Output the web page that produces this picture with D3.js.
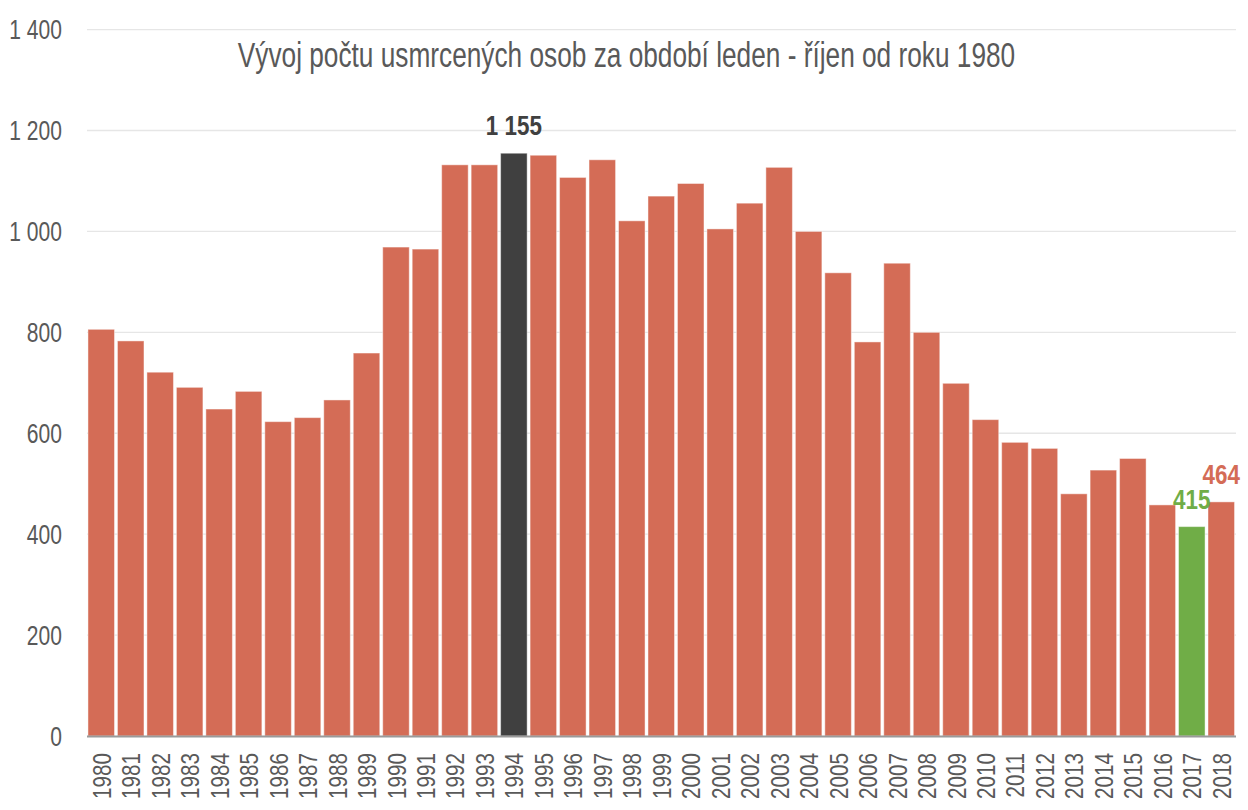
<!DOCTYPE html>
<html><head><meta charset="utf-8">
<script src="https://cdn.jsdelivr.net/npm/d3@7"></script>
<style>
html,body{margin:0;padding:0;background:#fff;}
svg{display:block;}
text{font-family:"Liberation Sans Narrow","Arial Narrow","Liberation Sans",Arial,sans-serif;}
</style></head>
<body>
<svg id="chart" width="1248" height="810"></svg>
<script>
const years = [1980,1981,1982,1983,1984,1985,1986,1987,1988,1989,1990,1991,1992,1993,1994,1995,1996,1997,1998,1999,2000,2001,2002,2003,2004,2005,2006,2007,2008,2009,2010,2011,2012,2013,2014,2015,2016,2017,2018];
const deaths = [806,783,721,691,648,683,623,631,666,759,969,965,1132,1132,1155,1151,1107,1142,1021,1070,1095,1005,1056,1127,1000,918,781,937,800,699,627,582,570,480,527,550,458,415,464];
const yTicks = [0,200,400,600,800,1000,1200,1400];
const highlightYears = {1994:"#404040", 2017:"#70AD47"};
const labelYears = [1994,2017,2018];
const title = "Vývoj počtu usmrcených osob za období leden - říjen od roku 1980";

const svg = d3.select("#chart");
const x = d3.scaleBand().domain(years).range([86.5,1236]).paddingInner(0.1).paddingOuter(0.05);
const y = d3.scaleLinear().domain([0,1400]).range([736,29.6]);
const barColor = "#D46C56";
const colorOf = yr => highlightYears[yr] || barColor;
const fmt = v => d3.format(",")(v).replace(/,/g," ");
const squeeze = 0.78;

// grid
svg.append("g").selectAll("line").data(yTicks.filter(d=>d>0)).join("line")
  .attr("x1",87).attr("x2",1236).attr("y1",d=>y(d)).attr("y2",d=>y(d))
  .attr("stroke","#E6E6E6").attr("stroke-width",1.3);

// y labels
svg.append("g").selectAll("text").data(yTicks).join("text")
  .attr("transform",d=>`translate(62,${y(d)}) scale(${squeeze},1)`)
  .attr("dy","0.36em")
  .attr("text-anchor","end").attr("fill","#595959").attr("font-size",27)
  .text(d=>fmt(d));

// bars
svg.append("g").selectAll("rect").data(years).join("rect")
  .attr("x",d=>x(d)).attr("width",x.bandwidth())
  .attr("y",(d,i)=>y(deaths[i])).attr("height",(d,i)=>y(0)-y(deaths[i]))
  .attr("fill",d=>colorOf(d))
  .attr("stroke","rgba(255,255,255,0.45)").attr("stroke-width",1);

// axis line
svg.append("line").attr("x1",87).attr("x2",1236).attr("y1",y(0)+0.5).attr("y2",y(0)+0.5)
  .attr("stroke","#9A9A9A").attr("stroke-width",2);

// x labels
svg.append("g").selectAll("text").data(years).join("text")
  .attr("transform",d=>`translate(${x(d)+x.bandwidth()/2},753) rotate(-90) scale(${squeeze},1)`)
  .attr("dy","0.36em").attr("text-anchor","end")
  .attr("fill","#595959").attr("font-size",26.5)
  .text(d=>d);

// value labels
svg.append("g").selectAll("text").data(labelYears).join("text")
  .attr("transform",d=>`translate(${x(d)+x.bandwidth()/2},${y(deaths[years.indexOf(d)])-18}) scale(0.8,1)`)
  .attr("text-anchor","middle").attr("font-weight","bold").attr("font-size",28)
  .attr("fill",d=>colorOf(d))
  .text(d=>fmt(deaths[years.indexOf(d)]));

// title
svg.append("text").attr("transform","translate(626.5,67) scale(0.75,1)")
  .attr("text-anchor","middle")
  .attr("fill","#595959").attr("font-size",35)
  .text(title);
</script>
</body></html>
